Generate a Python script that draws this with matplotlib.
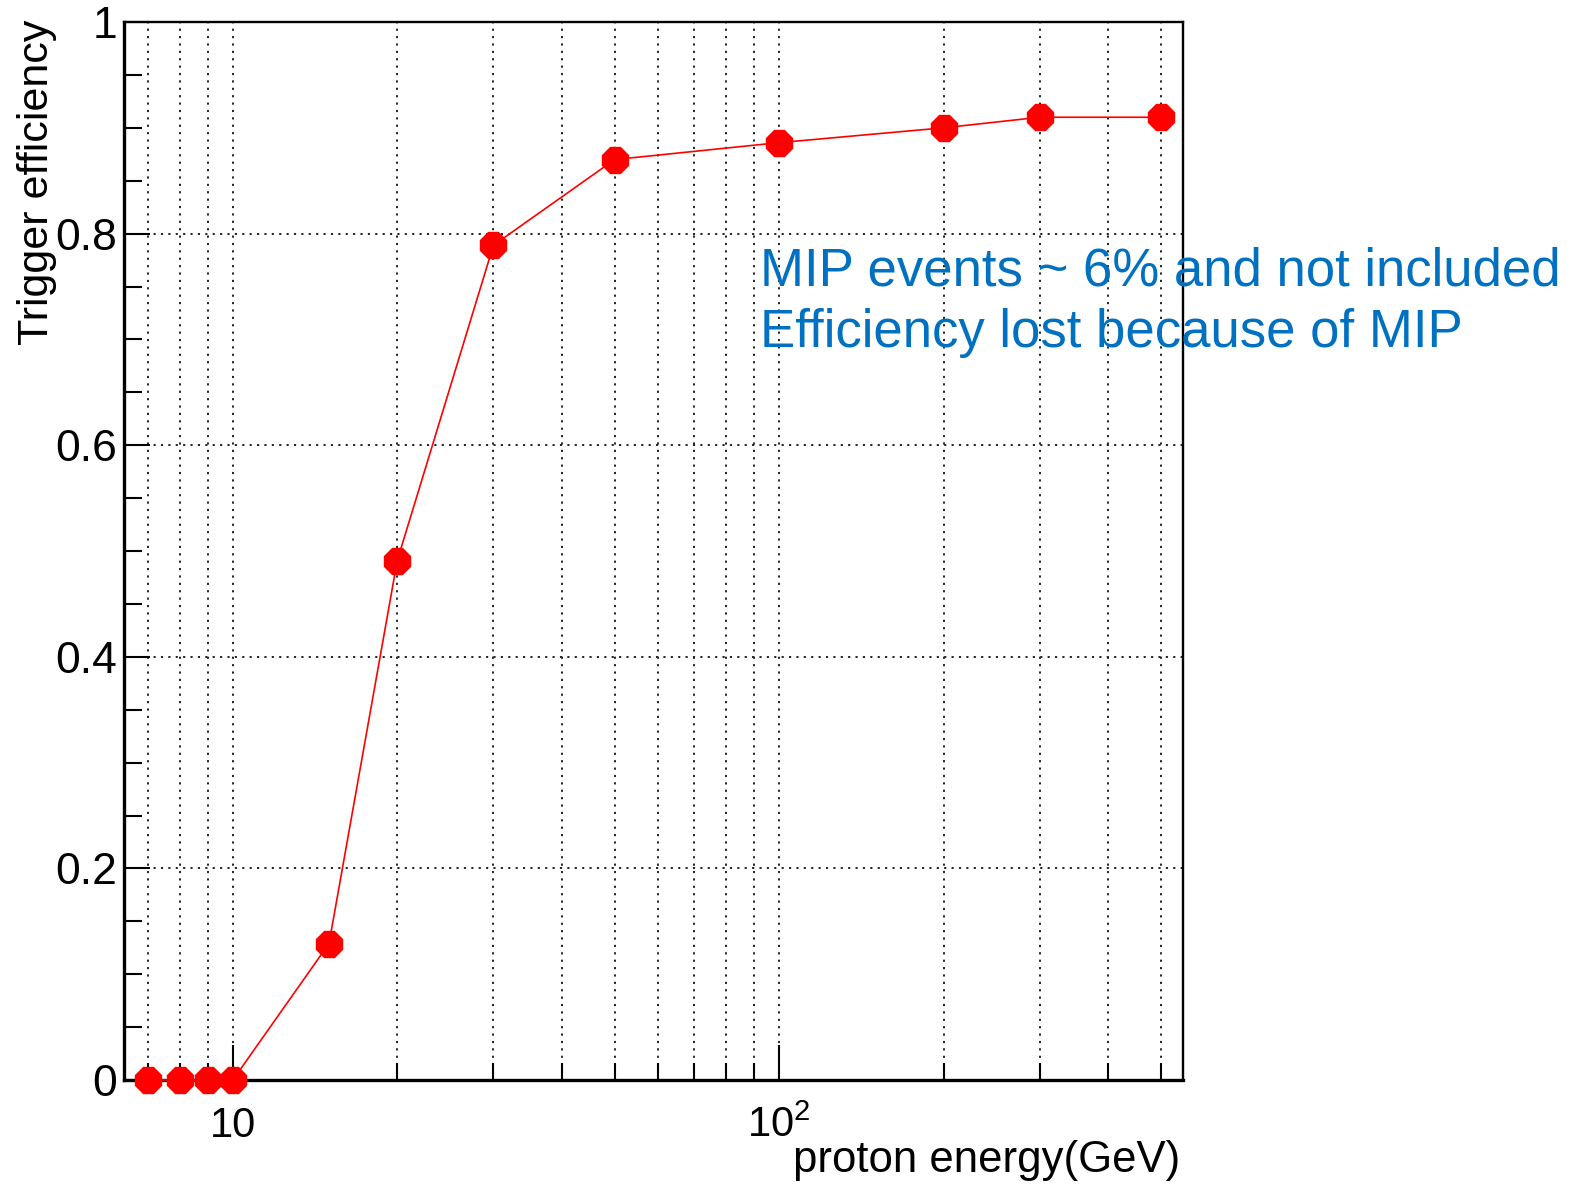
#Trigger efficiency vs proton energy, ROOT style plot
import matplotlib
matplotlib.use("Agg")
import matplotlib.pyplot as plt
from matplotlib.ticker import FixedLocator, FixedFormatter, LogLocator, NullFormatter, FuncFormatter

plt.rcParams['font.family'] = ['Liberation Sans', 'DejaVu Sans']
plt.rcParams['mathtext.fontset'] = 'custom'
plt.rcParams['mathtext.rm'] = 'Liberation Sans'
plt.rcParams['mathtext.default'] = 'regular'

#data
energy = [7, 8, 9, 10, 15, 20, 30, 50, 100, 200, 300, 500]
efficiency = [0, 0, 0, 0, 0.129, 0.491, 0.789, 0.870, 0.886, 0.900, 0.910, 0.910]

xmajor = [10, 100]
xmajor_labels = ['10', r'$10^{2}$']
note_lines = ["MIP events ~ 6% and not included", "Efficiency lost because of MIP"]

fig = plt.figure(figsize=(15.81, 11.84), dpi=100)
ax = fig.add_axes([0.0784, 0.0878, 0.6699, 0.8936])

ax.plot(energy, efficiency, color='red', lw=1.2, marker='8', ms=20.5,
        mec='red', mfc='red', clip_on=False, zorder=3)

ax.set_xscale('log')
ax.set_xlim(6.32, 549)
ax.set_ylim(0, 1)

#ticks
ax.xaxis.set_major_locator(FixedLocator(xmajor))
ax.xaxis.set_major_formatter(FixedFormatter(xmajor_labels))
ax.xaxis.set_minor_locator(LogLocator(base=10, subs=range(2, 10)))
ax.xaxis.set_minor_formatter(NullFormatter())
ax.set_yticks([0, 0.2, 0.4, 0.6, 0.8, 1.0])
ax.set_yticks([i * 0.05 for i in range(21)], minor=True)
ax.yaxis.set_major_formatter(FuncFormatter(lambda v, p: '%g' % v))

ax.tick_params(which='both', direction='in', top=False, right=False, width=1.5, color='black')
ax.tick_params(axis='y', which='major', length=19, labelsize=32, pad=5)
ax.tick_params(axis='y', which='minor', length=13)
ax.tick_params(axis='x', which='major', length=25, labelsize=30, pad=41)
ax.tick_params(axis='x', which='minor', length=12)
plt.setp(ax.get_xticklabels(), va='baseline')

#dotted grid, ROOT style
ax.grid(which='both', axis='x', linestyle=(0, (1.1, 2.7)), color='#222222', lw=1.4)
ax.grid(which='major', axis='y', linestyle=(0, (1.1, 2.7)), color='#222222', lw=1.4)
ax.set_axisbelow(True)

for s in ['left', 'bottom']:
    ax.spines[s].set_linewidth(2.4)
for s in ['top', 'right']:
    ax.spines[s].set_linewidth(1.7)

#axis titles
ax.set_ylabel('Trigger efficiency', fontsize=31, loc='top')
ax.yaxis.set_label_coords(-0.063, 1.002)
ax.set_xlabel('proton energy(GeV)', fontsize=31.5, loc='right')
ax.xaxis.set_label_coords(0.997, -0.087)
ax.xaxis.label.set_va('baseline')

#annotation
fig.text(0.4807, 0.759, note_lines[0], color='#0070C0', fontsize=38, va='baseline')
fig.text(0.4807, 0.707, note_lines[1], color='#0070C0', fontsize=38, va='baseline')

fig.savefig('out.png', dpi=100)
